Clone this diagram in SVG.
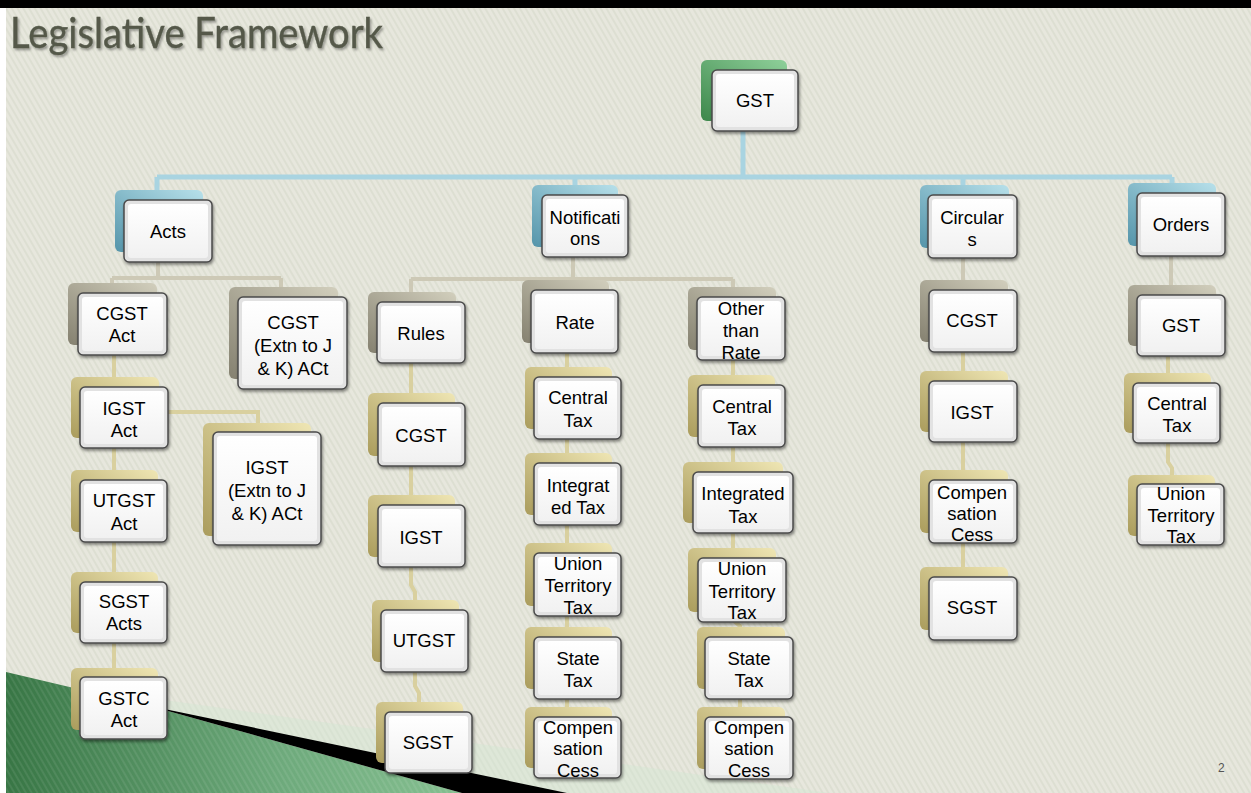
<svg xmlns="http://www.w3.org/2000/svg" width="1251" height="793" viewBox="0 0 1251 793">
  <defs>
    <pattern id="bgStripes" width="5" height="5" patternUnits="userSpaceOnUse" patternTransform="rotate(-30)">
      <rect width="5" height="5" fill="#e7e7dd"/>
      <rect width="2" height="5" fill="#dddfd2"/>
    </pattern>
    <pattern id="greenStripes" width="5" height="5" patternUnits="userSpaceOnUse" patternTransform="rotate(-30)">
      <rect width="2" height="5" fill="#ffffff" fill-opacity="0.08"/>
    </pattern>
    <linearGradient id="greenFill" x1="6" y1="0" x2="470" y2="0" gradientUnits="userSpaceOnUse">
      <stop offset="0" stop-color="#387645"/>
      <stop offset="0.6" stop-color="#6eaa7c"/>
      <stop offset="1" stop-color="#86c091"/>
    </linearGradient>
    <linearGradient id="gGreen" x1="1" y1="0" x2="0" y2="1">
      <stop offset="0" stop-color="#8fd09a"/>
      <stop offset="1" stop-color="#3d874b"/>
    </linearGradient>
    <linearGradient id="gBlue" x1="1" y1="0" x2="0" y2="1">
      <stop offset="0" stop-color="#b7e0ea"/>
      <stop offset="1" stop-color="#5595aa"/>
    </linearGradient>
    <linearGradient id="gTaupe" x1="1" y1="0" x2="0" y2="1">
      <stop offset="0" stop-color="#d2cfbd"/>
      <stop offset="1" stop-color="#858170"/>
    </linearGradient>
    <linearGradient id="gGold" x1="1" y1="0" x2="0" y2="1">
      <stop offset="0" stop-color="#efe6b4"/>
      <stop offset="1" stop-color="#aa9c5c"/>
    </linearGradient>
    <linearGradient id="gFace" x1="0" y1="0" x2="0" y2="1">
      <stop offset="0" stop-color="#ffffff"/>
      <stop offset="1" stop-color="#f1f1f1"/>
    </linearGradient>
    <filter id="shadow" x="-20%" y="-20%" width="140%" height="150%">
      <feDropShadow dx="1" dy="2" stdDeviation="1.5" flood-color="#000" flood-opacity="0.45"/>
    </filter>
    <filter id="titleShadow" x="-5%" y="-20%" width="110%" height="150%">
      <feDropShadow dx="1.5" dy="2" stdDeviation="1.2" flood-color="#000" flood-opacity="0.35"/>
    </filter>
  </defs>
  <style>
    .bk { stroke: none; }
    .green { fill: url(#gGreen); }
    .blue { fill: url(#gBlue); }
    .taupe { fill: url(#gTaupe); }
    .gold { fill: url(#gGold); }
    .fr { fill: #e2e2e2; stroke: #4b4b4b; stroke-width: 1.5; filter: url(#shadow); }
    .in { fill: url(#gFace); stroke: none; }
    .lbl { font-family: "Liberation Sans", Arial, sans-serif; font-size: 18.5px; fill: #000; text-anchor: middle; }
    .c-blue { stroke: #a9d4e1; stroke-width: 5; fill: none; }
    .c-taupe { stroke: #cdc9b6; stroke-width: 4; fill: none; }
    .c-gold { stroke: #d9d09f; stroke-width: 4; fill: none; }
    .title { font-family: Lato, "Open Sans", sans-serif; font-size: 43px; fill: #54594a; stroke: #54594a; stroke-width: 0.4; filter: url(#titleShadow); }
    .pg { font-family: "Liberation Sans", Arial, sans-serif; font-size: 12px; fill: #555; }
  </style>

  <!-- slide frame and background -->
  <rect x="0" y="0" width="1251" height="793" fill="#ffffff"/>
  <rect x="6" y="8" width="1245" height="785" fill="url(#bgStripes)"/>
  <rect x="0" y="0" width="1251" height="8" fill="#000000"/>

  <!-- lower-left decorative swoosh -->
  <g id="swoosh">
    <polygon points="150,698 830,793 560,793 150,706" fill="#d3e6d3" fill-opacity="0.45"/>
    <polygon points="6,672 150,706 462,793 6,793" fill="url(#greenFill)"/>
    <polygon points="6,672 150,706 462,793 6,793" fill="url(#greenStripes)"/>
    <polygon points="150,706 567,793 462,793" fill="#000000"/>
  </g>

  <text class="title" x="10" y="48" textLength="373" lengthAdjust="spacingAndGlyphs">Legislative Framework</text>

  <!-- connectors -->
  <g id="connectors">
    <path class="c-blue" d="M743 131 V177 M157 177 H1172 M157 177 V190 M575 177 V185 M963 177 V185 M1172 177 V183"/>
    <path class="c-taupe" d="M158 262 V278 M112 278 H281 M112 278 V283 M281 278 V287"/>
    <path class="c-taupe" d="M573 257 V279 M411 279 H733 M411 279 V292 M566 279 V281 M733 279 V287"/>
    <path class="c-taupe" d="M963 258 V280 M1171 256 V285"/>
    <path class="c-gold" d="M114 355 V668 M168 412 H258 V423"/>
    <path class="c-gold" d="M411 363 V585 L415 592 V686 L419 693 V702"/>
    <path class="c-gold" d="M567 353 V707"/>
    <path class="c-gold" d="M733 360 V620 L740 626 V707"/>
    <path class="c-gold" d="M963 352 V567"/>
    <path class="c-gold" d="M1168 356 V462 L1172 468 V475"/>
  </g>

  <!-- root -->
  <g id="n-gst">
    <rect class="bk green" x="701" y="60" width="86" height="61" rx="6"/>
    <rect class="fr" x="712" y="70" width="86" height="61" rx="5"/>
    <rect class="in" x="716" y="74" width="78" height="53" rx="3"/>
    <text class="lbl" x="755" y="106.5">GST</text>
  </g>

  <!-- first level -->
  <g id="n-acts">
    <rect class="bk blue" x="115" y="190" width="88" height="62" rx="6"/>
    <rect class="fr" x="124" y="200" width="88" height="62" rx="5"/>
    <rect class="in" x="128" y="204" width="80" height="54" rx="3"/>
    <text class="lbl" x="168" y="237.5">Acts</text>
  </g>
  <g id="n-notifications">
    <rect class="bk blue" x="532" y="185" width="86" height="62" rx="6"/>
    <rect class="fr" x="542" y="195" width="86" height="62" rx="5"/>
    <rect class="in" x="546" y="199" width="78" height="54" rx="3"/>
    <text class="lbl" x="585" y="223.5">Notificati</text>
    <text class="lbl" x="585" y="244.5">ons</text>
  </g>
  <g id="n-circulars">
    <rect class="bk blue" x="920" y="185" width="89" height="63" rx="6"/>
    <rect class="fr" x="928" y="195" width="89" height="63" rx="5"/>
    <rect class="in" x="932" y="199" width="81" height="55" rx="3"/>
    <text class="lbl" x="972" y="223.5">Circular</text>
    <text class="lbl" x="972" y="245.5">s</text>
  </g>
  <g id="n-orders">
    <rect class="bk blue" x="1128" y="183" width="88" height="63" rx="6"/>
    <rect class="fr" x="1137" y="193" width="88" height="63" rx="5"/>
    <rect class="in" x="1141" y="197" width="80" height="55" rx="3"/>
    <text class="lbl" x="1181" y="230.5">Orders</text>
  </g>

  <!-- Acts branch -->
  <g id="n-cgst-act">
    <rect class="bk taupe" x="68" y="283" width="89" height="62" rx="6"/>
    <rect class="fr" x="78" y="293" width="89" height="62" rx="5"/>
    <rect class="in" x="82" y="297" width="81" height="54" rx="3"/>
    <text class="lbl" x="122" y="319.5">CGST</text>
    <text class="lbl" x="122" y="341.5">Act</text>
  </g>
  <g id="n-cgst-jk">
    <rect class="bk taupe" x="229" y="287" width="109" height="92" rx="6"/>
    <rect class="fr" x="238" y="297" width="109" height="92" rx="5"/>
    <rect class="in" x="242" y="301" width="101" height="84" rx="3"/>
    <text class="lbl" x="293" y="328.5">CGST</text>
    <text class="lbl" x="293" y="351.5">(Extn to J</text>
    <text class="lbl" x="293" y="374.5">&amp; K) ACt</text>
  </g>
  <g id="n-igst-act">
    <rect class="bk gold" x="71" y="377" width="88" height="61" rx="6"/>
    <rect class="fr" x="80" y="387" width="88" height="61" rx="5"/>
    <rect class="in" x="84" y="391" width="80" height="53" rx="3"/>
    <text class="lbl" x="124" y="414.5">IGST</text>
    <text class="lbl" x="124" y="436.5">Act</text>
  </g>
  <g id="n-igst-jk">
    <rect class="bk gold" x="203" y="423" width="108" height="113" rx="6"/>
    <rect class="fr" x="213" y="432" width="108" height="113" rx="5"/>
    <rect class="in" x="217" y="436" width="100" height="105" rx="3"/>
    <text class="lbl" x="267" y="473.5">IGST</text>
    <text class="lbl" x="267" y="496.5">(Extn to J</text>
    <text class="lbl" x="267" y="519.5">&amp; K) ACt</text>
  </g>
  <g id="n-utgst-act">
    <rect class="bk gold" x="71" y="470" width="87" height="62" rx="6"/>
    <rect class="fr" x="80" y="480" width="87" height="62" rx="5"/>
    <rect class="in" x="84" y="484" width="79" height="54" rx="3"/>
    <text class="lbl" x="124" y="506.5">UTGST</text>
    <text class="lbl" x="124" y="529.5">Act</text>
  </g>
  <g id="n-sgst-acts">
    <rect class="bk gold" x="71" y="572" width="87" height="61" rx="6"/>
    <rect class="fr" x="80" y="582" width="87" height="61" rx="5"/>
    <rect class="in" x="84" y="586" width="79" height="53" rx="3"/>
    <text class="lbl" x="124" y="607.5">SGST</text>
    <text class="lbl" x="124" y="629.5">Acts</text>
  </g>
  <g id="n-gstc-act">
    <rect class="bk gold" x="71" y="668" width="87" height="62" rx="6"/>
    <rect class="fr" x="80" y="677" width="87" height="62" rx="5"/>
    <rect class="in" x="84" y="681" width="79" height="54" rx="3"/>
    <text class="lbl" x="124" y="704.5">GSTC</text>
    <text class="lbl" x="124" y="726.5">Act</text>
  </g>

  <!-- Notifications branch: Rules -->
  <g id="n-rules">
    <rect class="bk taupe" x="368" y="292" width="88" height="61" rx="6"/>
    <rect class="fr" x="377" y="302" width="88" height="61" rx="5"/>
    <rect class="in" x="381" y="306" width="80" height="53" rx="3"/>
    <text class="lbl" x="421" y="339.5">Rules</text>
  </g>
  <g id="n-rules-cgst">
    <rect class="bk gold" x="368" y="393" width="87" height="63" rx="6"/>
    <rect class="fr" x="378" y="403" width="87" height="63" rx="5"/>
    <rect class="in" x="382" y="407" width="79" height="55" rx="3"/>
    <text class="lbl" x="421" y="441.5">CGST</text>
  </g>
  <g id="n-rules-igst">
    <rect class="bk gold" x="368" y="495" width="87" height="62" rx="6"/>
    <rect class="fr" x="378" y="505" width="87" height="62" rx="5"/>
    <rect class="in" x="382" y="509" width="79" height="54" rx="3"/>
    <text class="lbl" x="421" y="543.5">IGST</text>
  </g>
  <g id="n-rules-utgst">
    <rect class="bk gold" x="372" y="600" width="87" height="62" rx="6"/>
    <rect class="fr" x="381" y="610" width="87" height="62" rx="5"/>
    <rect class="in" x="385" y="614" width="79" height="54" rx="3"/>
    <text class="lbl" x="424" y="646.5">UTGST</text>
  </g>
  <g id="n-rules-sgst">
    <rect class="bk gold" x="376" y="702" width="87" height="61" rx="6"/>
    <rect class="fr" x="385" y="712" width="87" height="61" rx="5"/>
    <rect class="in" x="389" y="716" width="79" height="53" rx="3"/>
    <text class="lbl" x="428" y="748.5">SGST</text>
  </g>

  <!-- Notifications branch: Rate -->
  <g id="n-rate">
    <rect class="bk taupe" x="522" y="280" width="87" height="63" rx="6"/>
    <rect class="fr" x="531" y="290" width="87" height="63" rx="5"/>
    <rect class="in" x="535" y="294" width="79" height="55" rx="3"/>
    <text class="lbl" x="575" y="328.5">Rate</text>
  </g>
  <g id="n-rate-central">
    <rect class="bk gold" x="525" y="367" width="87" height="62" rx="6"/>
    <rect class="fr" x="534" y="377" width="87" height="62" rx="5"/>
    <rect class="in" x="538" y="381" width="79" height="54" rx="3"/>
    <text class="lbl" x="578" y="403.5">Central</text>
    <text class="lbl" x="578" y="426.5">Tax</text>
  </g>
  <g id="n-rate-integrated">
    <rect class="bk gold" x="525" y="453" width="87" height="62" rx="6"/>
    <rect class="fr" x="534" y="463" width="87" height="62" rx="5"/>
    <rect class="in" x="538" y="467" width="79" height="54" rx="3"/>
    <text class="lbl" x="578" y="491.5">Integrat</text>
    <text class="lbl" x="578" y="513.5">ed Tax</text>
  </g>
  <g id="n-rate-ut">
    <rect class="bk gold" x="525" y="543" width="87" height="63" rx="6"/>
    <rect class="fr" x="534" y="553" width="87" height="63" rx="5"/>
    <rect class="in" x="538" y="557" width="79" height="55" rx="3"/>
    <text class="lbl" x="578" y="569.5">Union</text>
    <text class="lbl" x="578" y="591.5">Territory</text>
    <text class="lbl" x="578" y="613.5">Tax</text>
  </g>
  <g id="n-rate-state">
    <rect class="bk gold" x="525" y="627" width="87" height="62" rx="6"/>
    <rect class="fr" x="534" y="637" width="87" height="62" rx="5"/>
    <rect class="in" x="538" y="641" width="79" height="54" rx="3"/>
    <text class="lbl" x="578" y="664.5">State</text>
    <text class="lbl" x="578" y="686.5">Tax</text>
  </g>
  <g id="n-rate-cess">
    <rect class="bk gold" x="525" y="707" width="87" height="61" rx="6"/>
    <rect class="fr" x="534" y="717" width="87" height="61" rx="5"/>
    <rect class="in" x="538" y="721" width="79" height="53" rx="3"/>
    <text class="lbl" x="578" y="733.5">Compen</text>
    <text class="lbl" x="578" y="754.5">sation</text>
    <text class="lbl" x="578" y="776.5">Cess</text>
  </g>

  <!-- Notifications branch: Other than Rate -->
  <g id="n-otr">
    <rect class="bk taupe" x="688" y="287" width="88" height="63" rx="6"/>
    <rect class="fr" x="697" y="297" width="88" height="63" rx="5"/>
    <rect class="in" x="701" y="301" width="80" height="55" rx="3"/>
    <text class="lbl" x="741" y="314.5">Other</text>
    <text class="lbl" x="741" y="336.5">than</text>
    <text class="lbl" x="741" y="358.5">Rate</text>
  </g>
  <g id="n-otr-central">
    <rect class="bk gold" x="688" y="375" width="87" height="62" rx="6"/>
    <rect class="fr" x="698" y="385" width="87" height="62" rx="5"/>
    <rect class="in" x="702" y="389" width="79" height="54" rx="3"/>
    <text class="lbl" x="742" y="412.5">Central</text>
    <text class="lbl" x="742" y="434.5">Tax</text>
  </g>
  <g id="n-otr-integrated">
    <rect class="bk gold" x="683" y="462" width="100" height="61" rx="6"/>
    <rect class="fr" x="693" y="472" width="100" height="61" rx="5"/>
    <rect class="in" x="697" y="476" width="92" height="53" rx="3"/>
    <text class="lbl" x="743" y="499.5">Integrated</text>
    <text class="lbl" x="743" y="522.5">Tax</text>
  </g>
  <g id="n-otr-ut">
    <rect class="bk gold" x="688" y="548" width="88" height="64" rx="6"/>
    <rect class="fr" x="698" y="558" width="88" height="64" rx="5"/>
    <rect class="in" x="702" y="562" width="80" height="56" rx="3"/>
    <text class="lbl" x="742" y="574.5">Union</text>
    <text class="lbl" x="742" y="597.5">Territory</text>
    <text class="lbl" x="742" y="618.5">Tax</text>
  </g>
  <g id="n-otr-state">
    <rect class="bk gold" x="697" y="627" width="88" height="62" rx="6"/>
    <rect class="fr" x="705" y="637" width="88" height="62" rx="5"/>
    <rect class="in" x="709" y="641" width="80" height="54" rx="3"/>
    <text class="lbl" x="749" y="664.5">State</text>
    <text class="lbl" x="749" y="686.5">Tax</text>
  </g>
  <g id="n-otr-cess">
    <rect class="bk gold" x="697" y="707" width="88" height="62" rx="6"/>
    <rect class="fr" x="705" y="717" width="88" height="62" rx="5"/>
    <rect class="in" x="709" y="721" width="80" height="54" rx="3"/>
    <text class="lbl" x="749" y="733.5">Compen</text>
    <text class="lbl" x="749" y="754.5">sation</text>
    <text class="lbl" x="749" y="776.5">Cess</text>
  </g>

  <!-- Circulars branch -->
  <g id="n-circ-cgst">
    <rect class="bk taupe" x="920" y="280" width="88" height="62" rx="6"/>
    <rect class="fr" x="929" y="290" width="88" height="62" rx="5"/>
    <rect class="in" x="933" y="294" width="80" height="54" rx="3"/>
    <text class="lbl" x="972" y="326.5">CGST</text>
  </g>
  <g id="n-circ-igst">
    <rect class="bk gold" x="920" y="371" width="88" height="61" rx="6"/>
    <rect class="fr" x="929" y="381" width="88" height="61" rx="5"/>
    <rect class="in" x="933" y="385" width="80" height="53" rx="3"/>
    <text class="lbl" x="972" y="418.5">IGST</text>
  </g>
  <g id="n-circ-cess">
    <rect class="bk gold" x="920" y="470" width="88" height="63" rx="6"/>
    <rect class="fr" x="929" y="480" width="88" height="63" rx="5"/>
    <rect class="in" x="933" y="484" width="80" height="55" rx="3"/>
    <text class="lbl" x="972" y="498.5">Compen</text>
    <text class="lbl" x="972" y="519.5">sation</text>
    <text class="lbl" x="972" y="540.5">Cess</text>
  </g>
  <g id="n-circ-sgst">
    <rect class="bk gold" x="920" y="567" width="88" height="63" rx="6"/>
    <rect class="fr" x="929" y="577" width="88" height="63" rx="5"/>
    <rect class="in" x="933" y="581" width="80" height="55" rx="3"/>
    <text class="lbl" x="972" y="613.5">SGST</text>
  </g>

  <!-- Orders branch -->
  <g id="n-orders-gst">
    <rect class="bk taupe" x="1128" y="285" width="88" height="61" rx="6"/>
    <rect class="fr" x="1137" y="295" width="88" height="61" rx="5"/>
    <rect class="in" x="1141" y="299" width="80" height="53" rx="3"/>
    <text class="lbl" x="1181" y="331.5">GST</text>
  </g>
  <g id="n-orders-central">
    <rect class="bk gold" x="1124" y="373" width="87" height="60" rx="6"/>
    <rect class="fr" x="1133" y="383" width="87" height="60" rx="5"/>
    <rect class="in" x="1137" y="387" width="79" height="52" rx="3"/>
    <text class="lbl" x="1177" y="409.5">Central</text>
    <text class="lbl" x="1177" y="431.5">Tax</text>
  </g>
  <g id="n-orders-ut">
    <rect class="bk gold" x="1128" y="475" width="87" height="61" rx="6"/>
    <rect class="fr" x="1137" y="484" width="87" height="61" rx="5"/>
    <rect class="in" x="1141" y="488" width="79" height="53" rx="3"/>
    <text class="lbl" x="1181" y="499.5">Union</text>
    <text class="lbl" x="1181" y="521.5">Territory</text>
    <text class="lbl" x="1181" y="542.5">Tax</text>
  </g>

  <text class="pg" x="1218" y="772">2</text>
</svg>
